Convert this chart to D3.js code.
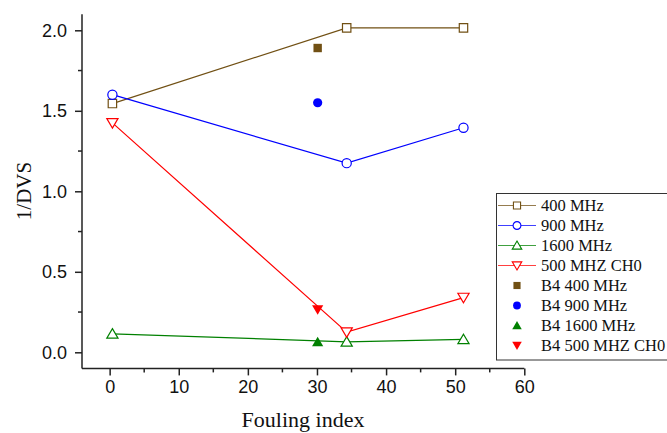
<!DOCTYPE html>
<html>
<head>
<meta charset="utf-8">
<script src="https://cdn.jsdelivr.net/npm/d3@7"></script>
<style>
  html, body { margin: 0; padding: 0; background: #fff; }
  svg { display: block; }
  .serif { font-family: "Liberation Serif", "Times New Roman", Times, "DejaVu Serif", serif; }
  .sans { font-family: "Liberation Sans", Arial, Helvetica, sans-serif; }
</style>
</head>
<body>
<svg id="chart" width="667" height="433"></svg>
<script>
// Fouling index for each measurement campaign
const foulingIndex = [0.4, 34.3, 51.2];
// 1/DVS per frequency band
const mhz400 = [1.545, 2.015, 2.015];
const mhz900 = [1.60, 1.175, 1.395];
const mhz1600 = [0.115, 0.065, 0.08];
const mhz500ch0 = [1.425, 0.125, 0.34];
// Single "B4" measurements
const b4Index = 30.1;
const b4Values = [1.89, 1.55, 0.065, 0.265];

const xTicks = [0, 10, 20, 30, 40, 50, 60];
const yTicks = [0.0, 0.5, 1.0, 1.5, 2.0];

const brown = "#715014";
const series = [
  { name: "400 MHz", values: mhz400, color: brown, shape: "square" },
  { name: "900 MHz", values: mhz900, color: "#0000ff", shape: "circle" },
  { name: "1600 MHz", values: mhz1600, color: "#008000", shape: "triangleUp" },
  { name: "500 MHZ CH0", values: mhz500ch0, color: "#ff0000", shape: "triangleDown" }
];
const b4Series = [
  { name: "B4 400 MHz", value: b4Values[0], color: brown, shape: "square" },
  { name: "B4 900 MHz", value: b4Values[1], color: "#0000ff", shape: "circle" },
  { name: "B4 1600 MHz", value: b4Values[2], color: "#008000", shape: "triangleUp" },
  { name: "B4 500 MHZ CH0", value: b4Values[3], color: "#ff0000", shape: "triangleDown" }
];

const svg = d3.select("#chart");
const x = d3.scaleLinear().domain([-4, 60]).range([82, 524.3]);
const y = d3.scaleLinear().domain([-0.1, 2.1]).range([368.4, 14.2]);

function markerPath(shape) {
  switch (shape) {
    case "square": return "M-4.2,-4.2H4.2V4.2H-4.2Z";
    case "circle": return "M4.6,0A4.6,4.6 0 1,1 -4.6,0A4.6,4.6 0 1,1 4.6,0Z";
    case "triangleUp": return "M0,-5.2L5.6,4.3H-5.6Z";
    case "triangleDown": return "M0,5.2L5.6,-4.3H-5.6Z";
  }
}

// Axes
const axisColor = "#222";
const gx = svg.append("g").attr("transform", `translate(0,${y.range()[0]})`);
gx.call(d3.axisBottom(x).tickValues(xTicks).tickSize(7).tickPadding(5).tickFormat(d3.format("d")));
const gy = svg.append("g").attr("transform", `translate(${x.range()[0]},0)`);
gy.call(d3.axisLeft(y).tickValues(yTicks).tickSize(7).tickPadding(8).tickFormat(d3.format(".1f")));

[gx, gy].forEach(g => {
  g.attr("font-family", null).attr("font-size", null);
  g.select(".domain").attr("stroke", axisColor).attr("stroke-width", 1.5);
  g.selectAll(".tick line").attr("stroke", axisColor).attr("stroke-width", 1.5);
  g.selectAll(".tick text").attr("fill", "#111").attr("class", "sans")
    .style("font-size", "18px");
});
gy.select(".domain").attr("d", `M0,${y.range()[0]}V${y.range()[1]}`);
gx.select(".domain").attr("d", `M${x.range()[0]},0H${x.range()[1]}`);

// Minor ticks
const xMinor = d3.range(5, 60, 10);
svg.append("g").selectAll("line").data(xMinor).join("line")
  .attr("x1", d => x(d)).attr("x2", d => x(d))
  .attr("y1", y.range()[0]).attr("y2", y.range()[0] + 4)
  .attr("stroke", axisColor).attr("stroke-width", 1.5);
const yMinor = [0.25, 0.75, 1.25, 1.75];
svg.append("g").selectAll("line").data(yMinor).join("line")
  .attr("x1", x.range()[0] - 4).attr("x2", x.range()[0])
  .attr("y1", d => y(d)).attr("y2", d => y(d))
  .attr("stroke", axisColor).attr("stroke-width", 1.5);

// Axis titles
svg.append("text")
  .attr("class", "serif")
  .attr("x", 303).attr("y", 427)
  .attr("text-anchor", "middle")
  .style("font-size", "22px").attr("fill", "#111")
  .text("Fouling index");
svg.append("text")
  .attr("class", "serif")
  .attr("transform", "translate(31,191) rotate(-90)")
  .attr("text-anchor", "middle")
  .style("font-size", "21px").attr("fill", "#111")
  .text("1/DVS");

// Lines and open markers
const line = d3.line().x((d, i) => x(foulingIndex[i])).y(d => y(d));
series.forEach(s => {
  svg.append("path").datum(s.values)
    .attr("d", line).attr("fill", "none")
    .attr("stroke", s.color).attr("stroke-width", 1.2);
});
series.forEach(s => {
  svg.append("g").selectAll("path").data(s.values).join("path")
    .attr("transform", (d, i) => `translate(${x(foulingIndex[i])},${y(d)})`)
    .attr("d", markerPath(s.shape))
    .attr("fill", "#fff").attr("stroke", s.color).attr("stroke-width", 1.2);
});

// Filled B4 markers
svg.append("g").selectAll("path").data(b4Series).join("path")
  .attr("transform", d => `translate(${x(b4Index)},${y(d.value)})`)
  .attr("d", d => markerPath(d.shape))
  .attr("fill", d => d.color).attr("stroke", "none");

// Legend
const legend = svg.append("g");
legend.append("rect")
  .attr("x", 496.5).attr("y", 193.5).attr("width", 175).attr("height", 166.5)
  .attr("fill", "#fff").attr("stroke", "#333").attr("stroke-width", 1);
const rows = series.map(s => ({ ...s, lined: true, filled: false }))
  .concat(b4Series.map(s => ({ ...s, lined: false, filled: true })));
const items = legend.selectAll("g.item").data(rows).join("g")
  .attr("class", "item")
  .attr("transform", (d, i) => `translate(0,${205.5 + i * 20})`);
items.filter(d => d.lined).append("line")
  .attr("x1", 498).attr("x2", 536).attr("y1", 0).attr("y2", 0)
  .attr("stroke", d => d.color).attr("stroke-width", 1.2).attr("stroke-opacity", 0.75);
items.append("path")
  .attr("transform", "translate(517,0) scale(0.85)")
  .attr("d", d => markerPath(d.shape))
  .attr("fill", d => d.filled ? d.color : "#fff")
  .attr("stroke", d => d.filled ? "none" : d.color)
  .attr("stroke-width", 1.3);
items.append("text")
  .attr("class", "serif")
  .attr("x", 541).attr("y", 5.5)
  .style("font-size", "16.5px").attr("fill", "#111")
  .text(d => d.name);
</script>
</body>
</html>
